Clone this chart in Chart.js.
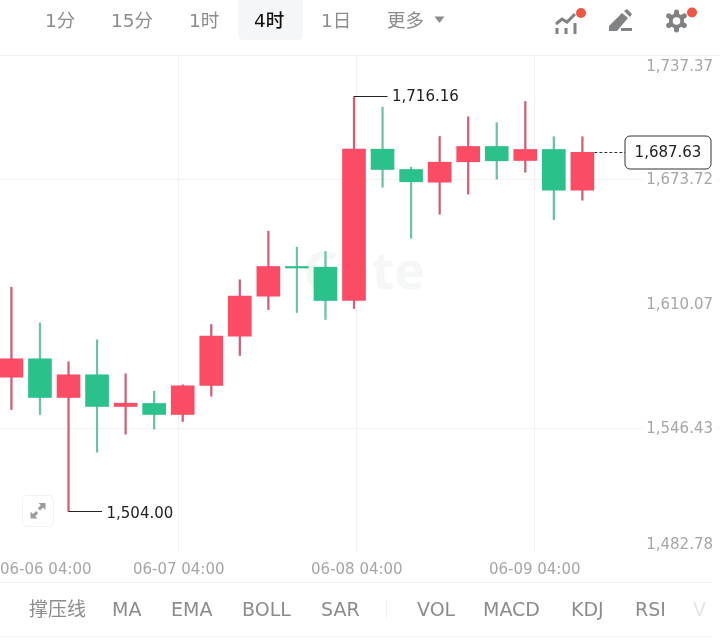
<!DOCTYPE html>
<html lang="zh">
<head>
<meta charset="utf-8">
<title>4时 K线</title>
<script src="https://cdn.jsdelivr.net/npm/chart.js@4"></script>
<style>
  html, body { margin: 0; padding: 0; background: #fff; }
  #page { position: relative; width: 720px; height: 642px; overflow: hidden; font-family: "DejaVu Sans", "Noto Sans CJK SC", sans-serif; color: #8a8c8e; }
  #plot { position: absolute; left: 0; top: 0; width: 720px; height: 642px; }
  .tab { position: absolute; white-space: nowrap; line-height: 1; }
  .top { top: 12px; font-size: 18.5px; }
  .bottom { top: 600px; font-size: 19px; }
  .rule { position: absolute; left: 0; width: 712px; height: 1px; background: #eff0f1; }
  #active { position: absolute; left: 238px; top: 0; width: 65px; height: 40px; background: #f5f6f7; border-radius: 0 0 5px 5px; }
  svg { position: absolute; overflow: visible; }
  #expand { position: absolute; left: 22px; top: 495px; width: 30px; height: 30px; border: 1px solid #f1f2f3; border-radius: 5px; background: #fff; }
</style>
</head>
<body>
<div id="page">
  <canvas id="plot" width="720" height="642"></canvas>

  <!-- interval tabs -->
  <div id="active"></div>
  <span class="tab top" style="left:45px">1分</span>
  <span class="tab top" style="left:111px">15分</span>
  <span class="tab top" style="left:189px">1时</span>
  <span class="tab top" style="left:254px;color:#111;font-weight:500">4时</span>
  <span class="tab top" style="left:321px">1日</span>
  <span class="tab top" style="left:387px">更多</span>
  <svg style="left:434px;top:16px" width="12" height="8"><path d="M0.5 0.5H10.5L5.5 7Z" fill="#8a8c8e"/></svg>

  <!-- toolbar icons -->
  <svg style="left:555px;top:10px" width="30" height="26">
    <path d="M1 14L7 9L12 12L20 4" fill="none" stroke="#7f8183" stroke-width="3"/>
    <path d="M2 18V24M11 18V24M20 13V24" fill="none" stroke="#7f8183" stroke-width="3"/>
  </svg>
  <svg style="left:608px;top:10px" width="26" height="22">
    <path d="M1 16L14 3L20 8L9 21H1Z" fill="#7f8183"/>
    <path d="M16 1L19 -1L24 4L22 7Z" fill="#7f8183"/>
    <rect x="13" y="18" width="11" height="3" fill="#7f8183"/>
  </svg>
  <svg style="left:665px;top:9px" width="24" height="24">
    <g stroke="#7f8183" stroke-width="5" stroke-linecap="round">
      <path d="M11.5 3V21M3.7 6.9L19.3 16.5M3.7 16.5L19.3 6.9"/>
    </g>
    <circle cx="11.5" cy="12" r="7.6" fill="#7f8183"/>
    <circle cx="11.5" cy="12" r="3.8" fill="#fff"/>
  </svg>
  <svg style="left:0;top:0" width="720" height="30">
    <circle cx="581" cy="13" r="5" fill="#ee5543"/>
    <circle cx="692" cy="12.5" r="5" fill="#ee5543"/>
  </svg>

  <div class="rule" style="top:582px"></div>
  <div class="rule" style="top:636px"></div>

  <!-- expand button -->
  <div id="expand">
    <svg style="left:6px;top:6px" width="18" height="18">
      <path d="M9.5 1H16.5V8L14 5.5L11 8.5L8.8 6.3L11.8 3.3Z M8.5 16.5H1.5V9.5L4 12L7 9L9.2 11.2L6.2 14.2Z" fill="#9a9c9e"/>
    </svg>
  </div>

  <!-- indicator tabs -->
  <span class="tab bottom" style="left:29px">撑压线</span>
  <span class="tab bottom" style="left:112px">MA</span>
  <span class="tab bottom" style="left:171px">EMA</span>
  <span class="tab bottom" style="left:242px">BOLL</span>
  <span class="tab bottom" style="left:321px">SAR</span>
  <span style="position:absolute;left:386px;top:600px;width:1px;height:18px;background:#eff0f1"></span>
  <span class="tab bottom" style="left:417px">VOL</span>
  <span class="tab bottom" style="left:483px">MACD</span>
  <span class="tab bottom" style="left:571px">KDJ</span>
  <span class="tab bottom" style="left:635px">RSI</span>
  <span class="tab bottom" style="left:693px;color:#e4e5e6">V</span>
</div>

<script>
// Four-hour candles, oldest first.
const opens  = [1572.66, 1582.06, 1562.28, 1573.89, 1557.68, 1559.21, 1553.59, 1568.41, 1593.62, 1614.07, 1629.25, 1628.89, 1611.87, 1689.22, 1678.84, 1672.35, 1682.78, 1690.60, 1683.44, 1689.07, 1668.26];
const highs  = [1618.67, 1600.47, 1580.53, 1591.78, 1574.39, 1565.50, 1568.77, 1599.60, 1622.45, 1647.30, 1639.12, 1636.92, 1716.16, 1710.69, 1680.02, 1695.71, 1705.78, 1702.71, 1713.60, 1695.56, 1695.56];
const lows   = [1556.15, 1553.59, 1504.00, 1534.32, 1543.52, 1546.07, 1550.01, 1562.95, 1583.75, 1607.27, 1605.73, 1602.16, 1607.78, 1669.79, 1643.72, 1655.99, 1666.21, 1673.88, 1677.46, 1653.13, 1663.15];
const closes = [1582.06, 1562.28, 1573.89, 1557.68, 1559.37, 1553.59, 1568.26, 1593.62, 1614.07, 1629.25, 1628.48, 1611.87, 1689.22, 1678.84, 1672.55, 1682.57, 1690.60, 1683.29, 1689.07, 1668.26, 1687.63];

// Price axis.
const priceTicks = [1482.78, 1546.43, 1610.07, 1673.72, 1737.37];

// Time axis: label text and where each one falls, in candle units.
const timeLabels = ['06-06 04:00', '06-07 04:00', '06-08 04:00', '06-09 04:00', ''];
const timeSlots  = [-0.4, 5.86, 12.1, 18.33, 24.82];

// Called-out extremes and the latest price.
const highCallout = 1716.16;
const lowCallout  = 1504.00;
const lastPrice   = 1687.63;

const UP = '#fb4c66', DOWN = '#2bc18b', UP_WICK = '#cf5f78', DOWN_WICK = '#68c4a2';
const LABEL_FONT = '"DejaVu Sans", sans-serif';
const money = v => v.toLocaleString('en-US', { minimumFractionDigits: 2, maximumFractionDigits: 2 });
const indices = opens.map((_, i) => i);

const bodies = indices.map(i => ({ x: i, y: [opens[i], closes[i]] }));
const wicks  = indices.map(i => ({ x: i, y: [lows[i], highs[i]] }));
const isUp = i => closes[i] >= opens[i];

// The brand mark sits faintly behind the candles.
const watermark = {
  id: 'watermark',
  beforeDatasetsDraw(chart) {
    const { ctx } = chart;
    ctx.save();
    ctx.fillStyle = '#f5f6f6';
    ctx.font = 'bold 52px "Open Sans", sans-serif';
    ctx.textAlign = 'right';
    ctx.textBaseline = 'middle';
    ctx.fillText('Gate', 425, 274);
    ctx.restore();
  }
};

// Keep the outermost price labels inside the plot, next to the axis ends.
const edgeLabels = {
  id: 'edgeLabels',
  beforeDraw(chart) {
    const items = chart.scales.y.getLabelItems();
    const move = (item, dy) => {
      if (item.nudged) return;
      item.options.translation[1] += dy;
      if (item.options.backdrop) item.options.backdrop.top += dy;
      item.nudged = true;
    };
    move(items[0], -8.5);
    move(items[items.length - 1], 11);
  }
};

// Leader lines for the extremes and the boxed latest price.
const callouts = {
  id: 'callouts',
  afterDatasetsDraw(chart) {
    const { ctx, scales: { x, y } } = chart;
    const extreme = (value, textDrop) => {
      const i = value === highCallout ? highs.indexOf(value) : lows.indexOf(value);
      const px = x.getPixelForValue(i), py = Math.round(y.getPixelForValue(value)) + 0.5;
      ctx.beginPath();
      ctx.moveTo(px, py);
      ctx.lineTo(px + 33.5, py);
      ctx.strokeStyle = '#222';
      ctx.lineWidth = 1;
      ctx.stroke();
      ctx.fillStyle = '#222';
      ctx.font = '15px ' + LABEL_FONT;
      ctx.textAlign = 'left';
      ctx.textBaseline = 'middle';
      ctx.fillText(money(value), px + 38, py + textDrop);
    };
    ctx.save();
    extreme(highCallout, 1);
    extreme(lowCallout, 2.5);

    const py = Math.round(y.getPixelForValue(lastPrice)) + 0.5;
    const start = x.getPixelForValue(closes.length - 1) + 12;
    ctx.beginPath();
    ctx.setLineDash([3, 2]);
    ctx.moveTo(start, py);
    ctx.lineTo(625, py);
    ctx.strokeStyle = '#333';
    ctx.lineWidth = 1;
    ctx.stroke();
    ctx.setLineDash([]);
    ctx.beginPath();
    ctx.roundRect(625, 136, 86, 33, 5);
    ctx.fillStyle = '#fff';
    ctx.fill();
    ctx.strokeStyle = '#333';
    ctx.stroke();
    ctx.fillStyle = '#222';
    ctx.font = '15px ' + LABEL_FONT;
    ctx.textAlign = 'center';
    ctx.textBaseline = 'middle';
    ctx.fillText(money(lastPrice), 668, py + 1);
    ctx.restore();
  }
};

new Chart(document.getElementById('plot'), {
  type: 'bar',
  data: {
    datasets: [
      {
        label: '实体',
        data: bodies,
        backgroundColor: indices.map(i => isUp(i) ? UP : DOWN),
        barThickness: 23,
        grouped: false,
        order: 1
      },
      {
        label: '影线',
        data: wicks,
        backgroundColor: indices.map(i => isUp(i) ? UP_WICK : DOWN_WICK),
        barThickness: 1.6,
        grouped: false,
        order: 2
      }
    ]
  },
  options: {
    responsive: false,
    animation: false,
    layout: { autoPadding: false, padding: { top: 55, bottom: 55, left: 0, right: 0 } },
    plugins: { legend: { display: false }, tooltip: { enabled: false } },
    scales: {
      x: {
        type: 'linear',
        offset: false,
        min: timeSlots[0],
        max: timeSlots[timeSlots.length - 1],
        afterBuildTicks(scale) { scale.ticks = timeSlots.map(value => ({ value })); },
        afterFit(scale) { scale.paddingLeft = 0; scale.paddingRight = 0; },
        border: { display: false },
        grid: {
          offset: false,
          drawTicks: false,
          color: ctx => (ctx.index >= 1 && ctx.index <= 3) ? '#f1f2f3' : 'transparent'
        },
        ticks: {
          autoSkip: false,
          maxRotation: 0,
          align: 'inner',
          padding: 8,
          color: '#a4a6a8',
          font: { family: LABEL_FONT, size: 15 },
          callback: (value, index) => timeLabels[index]
        }
      },
      y: {
        type: 'linear',
        position: 'right',
        min: priceTicks[0],
        max: priceTicks[priceTicks.length - 1],
        afterBuildTicks(scale) { scale.ticks = priceTicks.map(value => ({ value })); },
        afterFit(scale) { scale.width = 0; scale.paddingTop = 0; scale.paddingBottom = 0; },
        border: { display: false },
        grid: {
          drawTicks: false,
          color: ctx => (ctx.tick && (ctx.tick.value === 1482.78 || ctx.tick.value === 1610.07)) ? 'transparent' : '#f1f2f3'
        },
        ticks: {
          mirror: true,
          padding: -7,
          labelOffset: 1,
          autoSkip: false,
          color: '#a4a6a8',
          font: { family: LABEL_FONT, size: 15 },
          showLabelBackdrop: true,
          backdropColor: '#fff',
          backdropPadding: 4,
          callback: value => money(value)
        }
      }
    }
  },
  plugins: [watermark, edgeLabels, callouts]
});
</script>
</body>
</html>
